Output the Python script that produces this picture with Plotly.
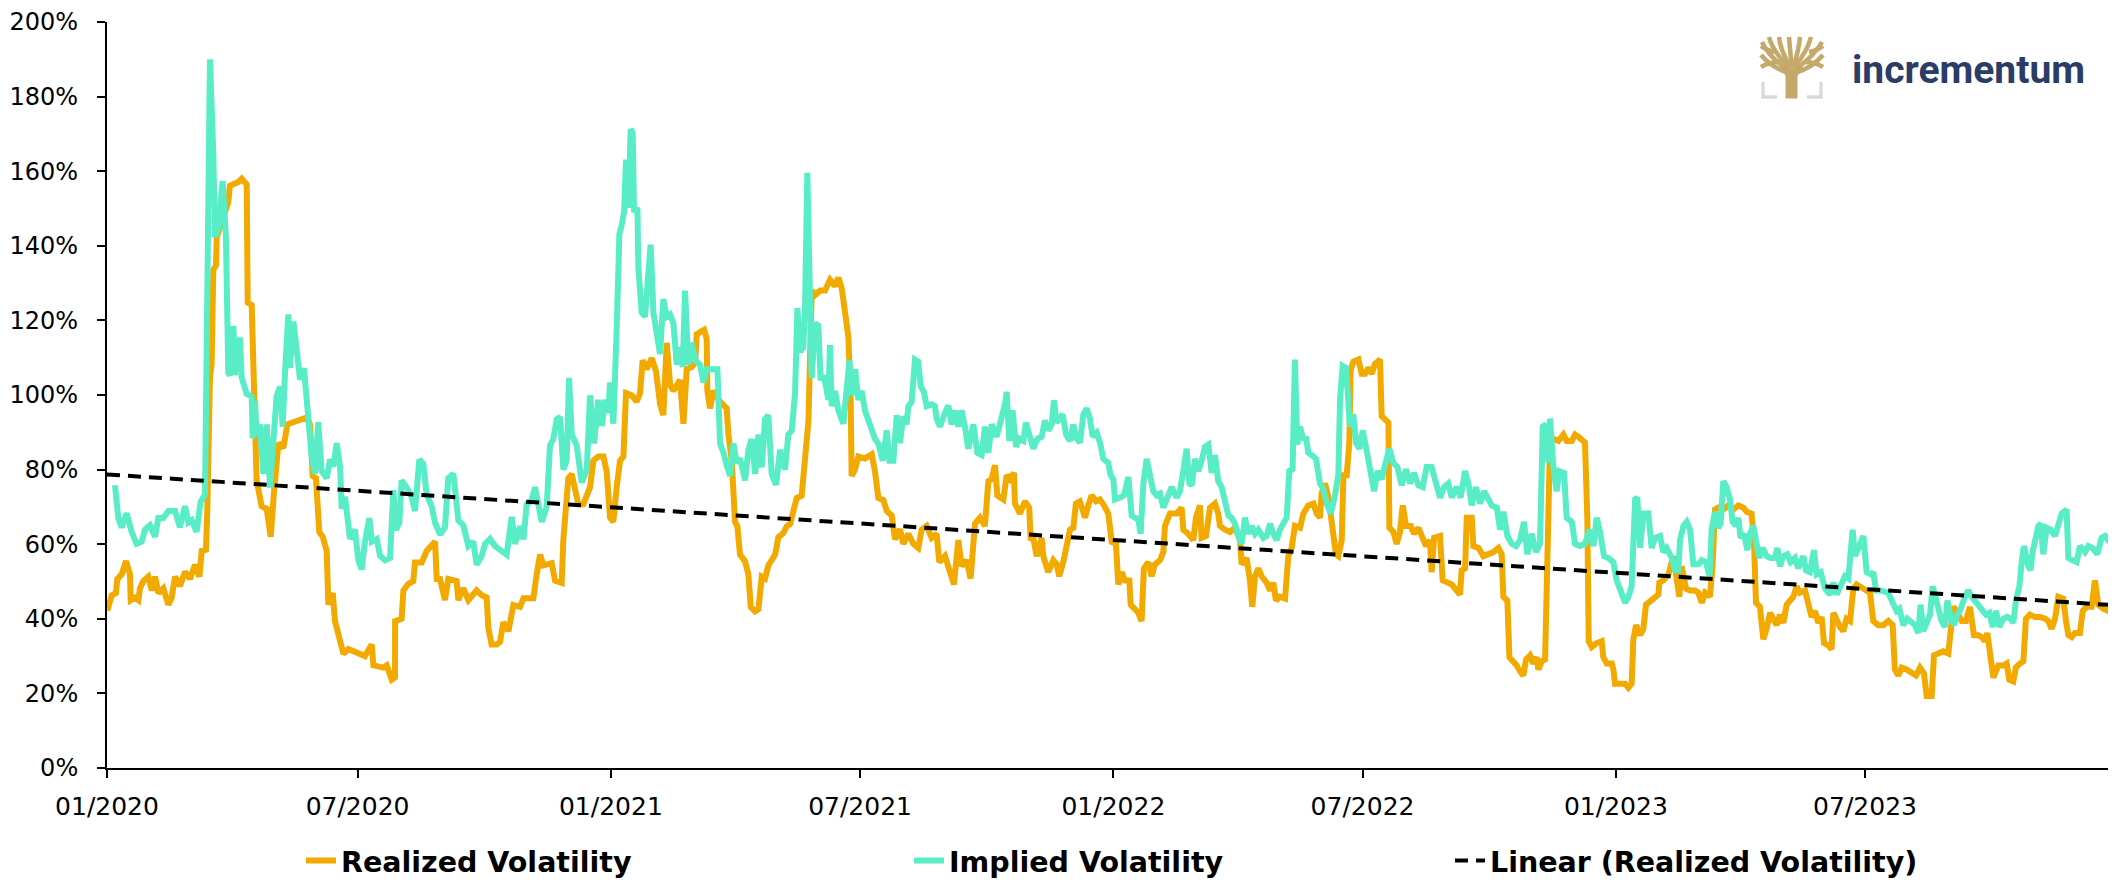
import pandas as pd
import plotly.graph_objects as go

# ---------------- data (days since 2020-01-01, volatility in %) ----------------
realized_day = [0.2,3.4,6.5,7.5,10.7,13.8,16.7,17.2,20.3,22.8,24.0,26.4,30.0,32.5,34.9,37.3,40.9,44.6,47.0,49.4,53.0,56.7,60.3,63.9,67.1,68.8,71.9,72.9,74.8,76.0,77.2,79.2,79.7,82.1,85.0,88.1,89.3,93.0,95.4,97.8,101.5,102.2,105.1,108.7,112.3,116.0,118.9,121.3,124.5,128.1,131.0,135.3,140.2,145.0,147.5,149.4,151.8,154.2,156.7,159.6,160.8,164.0,165.6,168.0,171.7,175.3,179.0,183.8,187.4,192.3,193.5,200.7,203.2,206.8,209.2,209.3,214.0,215.3,218.9,222.5,223.7,228.6,232.2,238.3,239.5,241.9,245.5,247.9,254.0,255.2,258.8,262.5,264.9,268.5,272.2,275.8,277.0,279.4,283.1,
    285.5,287.9,291.6,295.2,300.0,302.5,309.7,312.1,314.6,317.0,323.0,325.5,330.3,331.5,335.1,337.6,340.0,342.4,346.0,348.9,350.9,353.3,356.9,360.6,363.0,365.4,367.8,370.2,372.7,375.1,377.0,381.1,384.8,387.2,389.1,392.0,395.7,398.8,401.7,404.1,406.6,409.0,411.4,416.2,418.7,421.1,424.7,427.2,428.4,430.8,433.7,435.6,436.1,438.0,440.5,445.3,450.1,451.4,453.8,456.2,457.9,459.8,463.5,465.9,467.6,470.7,473.2,475.6,478.0,480.4,482.8,485.3,487.7,491.3,493.7,496.2,498.6,501.0,504.6,507.1,509.5,510.7,511.9,514.3,518.0,521.6,525.2,528.8,531.3,533.7,536.1,538.5,540.2,540.9,543.3,545.8,550.6,555.5,557.9,560.3,564.0,566.4,570.0,572.4,
    576.0,578.4,582.1,585.7,589.3,591.7,595.4,599.0,602.6,604.6,608.7,612.3,615.2,618.4,620.8,624.4,627.3,630.5,634.1,637.7,640.2,642.6,645.0,646.7,651.1,653.5,655.9,658.8,659.5,663.2,666.8,669.9,670.9,672.9,675.3,678.9,680.1,683.7,687.4,689.8,691.7,694.6,697.1,699.5,701.9,703.8,706.7,710.4,712.8,715.2,718.4,721.3,724.2,727.3,729.8,732.9,734.6,737.0,739.4,742.6,743.6,746.7,749.1,751.5,753.2,756.4,758.8,761.2,764.9,767.3,768.5,772.1,776.9,780.6,781.8,785.4,789.1,791.0,793.9,795.1,798.3,801.2,804.8,807.2,808.4,812.1,815.7,819.3,823.0,824.2,827.8,830.2,831.9,833.9,836.3,838.7,842.3,844.8,847.2,849.1,852.0,855.7,858.1,860.5,862.9,
    866.6,869.0,872.6,876.3,878.7,881.1,882.3,884.8,887.2,889.6,890.8,892.7,894.4,896.9,898.1,900.5,902.4,903.4,905.3,909.0,911.4,913.8,916.3,918.7,921.1,924.7,925.9,928.3,930.8,931.5,934.4,936.8,939.2,941.2,943.6,947.0,949.4,952.6,955.7,958.1,961.0,962.2,964.0,968.3,970.2,973.1,976.8,979.2,982.8,984.0,986.5,987.7,991.3,992.5,996.2,999.8,1003.4,1007.0,1010.7,1013.1,1014.3,1017.2,1018.7,1021.6,1024.0,1026.4,1028.8,1030.8,1033.7,1036.1,1038.5,1039.7,1042.1,1044.6,1045.8,1047.0,1048.2,1050.6,1054.3,1057.9,1060.3,1064.0,1066.4,1068.8,1071.2,1073.6,1075.3,1076.3,1078.5,1082.1,1085.7,1086.9,1089.4,1093.0,1094.2,1095.4,1099.0,1102.7,1105.1,1107.5,1108.7,1110.7,1113.6,1116.0,1117.9,1120.8,1123.3,1126.9,1127.6,1130.5,1134.2,1137.8,1140.2,1142.1,1143.8,1147.0,1149.9,1153.5,1155.9,1158.4,1160.8,1164.4,
    1166.3,1168.0,1170.4,1174.1,1177.7,1181.3,1185.0,1188.6,1191.0,1194.6,1196.3,1197.8,1200.7,1203.1,1205.5,1208.0,1210.4,1212.8,1215.2,1217.6,1220.1,1222.5,1224.9,1227.3,1229.7,1233.4,1235.8,1238.2,1240.6,1243.1,1245.5,1247.2,1250.3,1252.7,1254.0,1256.4,1258.8,1261.2,1263.6,1266.1,1268.5,1270.9,1273.3,1277.0,1280.6,1283.0,1286.6,1290.3,1293.9,1297.1,1298.7,1301.2,1303.6,1307.2,1310.9,1314.0,1316.9,1319.8,1321.8,1325.4,1327.1,1330.3,1333.9,1337.5,1339.2,1341.1,1343.5,1347.2,1350.3,1353.2,1356.1,1359.3,1361.7,1364.1,1365.8,1367.8,1370.2,1373.8,1377.5,1379.9,1381.8,1384.7,1386.6,1389.5,1392.0,1393.9,1396.8,1400.4,1404.1,1407.7,1410.1,1412.5,1415.0,1417.4,1421.0,1423.0,1424.7,1427.1,1429.5,1433.1,1435.1,1437.9,1441.6,1444.0,1446.4,1450.1,1453.7,1457.3,1459.3]
realized_pct = [42.2,46.3,46.9,50.7,51.9,55.5,51.9,45.0,45.7,45.0,48.2,50.1,51.3,47.6,51.3,46.9,48.2,43.8,45.7,51.3,48.8,52.6,50.7,54.5,51.3,58.2,58.5,69.5,104.7,108.4,133.5,134.8,142.3,144.8,147.3,151.7,156.1,156.7,157.1,158.0,156.4,124.8,124.1,77.1,70.2,69.5,62.0,73.9,87.1,85.8,92.1,92.7,93.4,94.0,92.1,78.3,77.7,63.3,62.0,58.2,43.8,46.9,39.4,36.3,30.6,31.9,31.2,30.6,30.0,33.1,27.5,26.9,27.5,23.7,24.3,39.4,40.0,47.6,49.4,50.1,55.1,55.1,58.2,60.7,50.7,50.7,45.0,50.7,50.1,45.0,48.2,45.0,46.3,47.6,46.3,45.7,37.5,33.1,33.1,
    33.8,39.1,36.7,43.7,43.2,45.5,45.5,51.9,57.2,54.3,54.9,50.2,49.6,61.3,77.7,78.8,74.8,70.7,70.7,74.2,75.3,82.4,83.5,83.5,79.4,67.1,66.0,75.3,82.4,83.5,100.5,99.9,98.2,100.5,109.3,106.9,109.9,106.3,97.6,94.6,114.0,102.8,101.1,104.0,92.3,106.9,107.5,108.7,116.3,116.9,117.5,115.1,101.1,96.4,101.1,98.2,96.4,89.4,82.4,66.0,64.8,57.2,55.4,51.9,43.2,42.0,42.6,51.3,50.8,54.3,56.0,57.2,61.9,63.0,64.8,65.4,68.9,72.4,73.0,83.5,92.9,110.4,128.0,126.8,128.0,128.0,130.9,129.2,131.5,128.6,122.7,115.7,98.7,78.3,80.0,83.5,83.0,84.1,79.4,72.4,71.8,68.9,67.7,61.3,
    64.0,60.1,62.8,60.1,59.0,63.9,64.9,61.7,62.8,55.2,56.8,52.5,49.2,61.1,54.1,55.7,50.8,65.5,67.1,64.9,76.9,77.4,81.2,73.1,72.0,78.5,77.4,79.1,70.9,68.2,71.5,69.8,61.1,61.7,56.8,61.7,56.8,52.5,55.7,54.6,51.4,55.2,59.0,63.9,64.4,70.9,71.5,67.1,70.4,73.1,71.5,72.0,70.4,68.2,60.6,60.1,49.2,52.5,50.3,50.3,43.8,42.7,41.6,39.4,53.5,55.2,51.4,54.6,55.7,57.9,64.9,68.2,68.2,69.8,63.9,62.8,61.1,67.1,70.4,61.7,62.2,69.8,70.9,68.2,64.9,63.9,63.3,64.4,61.1,54.6,56.3,50.3,43.2,51.4,53.5,51.4,49.7,47.6,49.7,44.9,45.9,45.4,56.8,59.0,64.9,
    64.4,68.2,70.4,70.9,68.2,67.1,73.6,76.3,72.5,66.6,61.1,57.3,56.8,61.1,78.5,78.5,87.2,106.7,108.9,109.5,105.7,105.7,107.3,105.7,108.4,109.5,94.3,93.7,92.6,64.4,63.3,60.1,63.3,70.4,64.9,64.9,62.8,64.4,61.1,59.5,61.1,52.5,61.7,62.2,50.3,49.7,49.2,48.1,46.5,53.0,53.5,67.1,67.1,59.5,59.0,56.8,57.3,57.9,59.0,57.3,45.9,44.9,29.7,28.6,27.5,25.9,24.8,29.1,30.2,28.0,29.7,26.4,28.6,29.1,50.3,82.9,87.2,88.3,87.7,89.4,87.7,87.7,89.4,88.8,87.7,87.2,66.6,34.0,32.4,33.5,34.0,29.7,28.0,28.0,26.4,22.6,22.6,22.6,21.5,22.6,34.5,38.3,35.6,37.3,43.8,44.9,45.4,46.5,49.7,50.3,51.9,56.8,51.4,45.9,54.1,48.1,47.6,47.6,47.0,44.3,47.0,46.0,
    54.6,69.3,69.8,69.3,70.4,69.3,70.4,69.8,68.7,68.2,61.1,44.3,43.2,34.5,37.3,41.6,40.0,38.3,41.1,38.9,43.8,44.9,45.9,48.7,47.0,47.6,43.8,40.5,42.1,38.9,40.5,33.5,32.9,31.8,41.6,39.4,37.8,36.7,40.0,39.4,48.1,49.2,48.7,48.1,47.0,39.4,38.3,38.3,39.4,38.3,26.4,24.8,26.9,26.4,25.3,24.8,26.9,25.3,19.3,19.3,30.2,30.7,31.3,30.7,38.9,43.2,42.1,39.4,39.4,43.2,35.6,35.6,35.1,34.0,36.2,29.1,24.2,27.5,27.5,28.0,23.7,23.2,27.0,28.0,28.6,40.0,41.1,40.5,40.5,40.0,39.4,37.3,40.0,45.9,45.4,39.4,35.6,35.1,36.2,36.2,42.1,43.2,43.2,50.3,43.8,42.7,42.1,43.8,44.3]

implied_day = [5.8,8.2,10.7,14.3,17.9,21.5,25.2,27.6,31.2,34.9,37.3,40.9,44.6,49.4,53.0,56.7,59.1,61.5,65.1,68.0,71.2,72.4,74.8,77.2,78.5,80.9,84.0,86.4,88.1,89.3,91.8,93.0,94.7,96.6,97.8,101.5,105.1,105.8,107.5,108.7,111.1,113.6,116.0,118.4,120.8,123.2,125.7,127.6,129.3,131.7,132.9,135.4,137.8,140.2,143.1,146.3,148.7,151.1,153.5,155.9,159.6,162.0,164.4,166.8,169.3,170.5,172.9,174.1,176.5,180.1,182.6,185.0,187.4,190.6,192.3,195.9,198.3,201.9,205.6,208.0,209.9,212.4,214.0,217.7,221.3,223.7,226.9,229.8,232.2,235.8,238.3,241.9,245.5,247.9,251.6,255.2,258.8,262.5,266.1,268.5,272.2,274.6,278.2,281.8,285.5,
    290.3,294.0,296.4,300.0,302.5,304.9,308.5,310.9,313.3,315.8,319.4,321.8,324.2,326.7,329.1,331.5,333.9,335.6,337.6,341.2,344.8,348.5,350.9,353.8,356.9,359.4,361.8,364.2,365.4,367.8,370.2,372.2,373.9,375.6,377.0,378.7,380.4,381.9,382.8,385.3,386.0,388.4,390.8,392.5,394.9,396.9,399.3,401.7,404.1,406.6,409.0,411.4,413.9,416.3,418.2,419.9,422.3,424.7,427.2,430.8,433.2,435.6,440.5,443.4,445.3,447.7,450.1,452.6,455.0,457.4,459.8,463.5,465.9,468.3,470.8,473.2,475.6,478.0,480.4,482.8,486.0,488.9,492.5,494.9,497.4,499.8,501.5,503.4,505.8,507.1,508.7,510.2,511.9,514.3,516.7,518.4,520.4,522.3,524.0,525.2,526.4,528.8,531.3,534.9,537.3,539.3,540.9,543.4,545.8,548.2,550.6,554.3,557.9,560.3,563.5,566.4,568.3,571.2,573.6,
    576.0,578.4,580.8,582.1,584.5,586.9,589.3,591.0,593.4,595.4,599.0,601.4,602.6,605.0,608.7,611.1,613.5,615.9,618.4,620.8,623.2,625.6,629.3,632.2,635.3,637.7,640.2,642.6,646.2,649.9,652.3,653.5,655.4,657.8,660.3,662.7,665.6,667.5,670.4,672.9,675.8,678.9,681.3,683.7,686.2,687.9,689.8,692.2,694.2,696.6,699.5,701.9,704.3,706.7,709.2,711.6,714.0,716.0,718.9,721.3,723.7,727.3,729.0,731.0,732.2,735.8,738.7,741.9,744.3,746.7,749.1,750.8,752.8,755.2,757.6,760.0,762.4,764.9,767.3,769.7,773.3,776.9,779.4,781.8,784.2,786.2,787.9,790.3,792.7,795.1,797.5,800.0,802.4,804.8,807.2,809.7,812.1,814.5,816.9,819.3,821.8,824.2,826.6,829.0,831.5,833.9,836.3,839.9,842.3,844.8,847.2,849.6,852.0,854.5,856.9,858.8,861.2,862.9,864.6,866.6,869.0,870.9,872.6,875.0,878.2,
    881.1,883.6,886.0,888.9,892.0,894.4,895.7,897.6,900.0,901.7,902.9,905.3,907.3,909.7,912.1,914.5,917.4,920.4,922.8,925.9,928.3,931.5,934.4,937.3,940.5,943.6,946.5,949.4,952.6,955.7,958.6,962.2,965.4,968.3,971.2,974.3,976.8,980.4,983.3,986.4,988.9,991.3,994.4,997.4,1000.3,1003.4,1005.8,1009.5,1011.9,1014.3,1017.2,1020.4,1023.5,1026.4,1029.3,1031.7,1034.9,1038.0,1040.9,1042.9,1045.3,1047.0,1048.2,1050.6,1053.0,1055.0,1058.4,1060.3,1064.0,1066.4,1070.0,1073.6,1076.8,1079.7,1082.1,1084.5,1087.4,1090.6,1094.2,1096.6,1099.5,1102.7,1105.1,1107.5,1110.0,1111.6,1113.6,1116.0,1119.6,1122.0,1124.5,1128.1,1130.5,1132.9,1136.6,1139.0,1141.4,1142.6,1145.1,1147.5,1149.9,1152.3,1156.0,1158.4,1161.5,1164.0,1165.7,1168.1,
    1170.4,1172.1,1174.1,1176.5,1178.9,1180.8,1183.3,1185.0,1186.6,1189.1,1191.5,1193.4,1195.8,1197.8,1200.2,1202.6,1205.5,1208.4,1211.6,1213.3,1215.2,1217.6,1220.5,1222.9,1226.1,1228.5,1232.2,1234.1,1237.0,1239.9,1241.9,1244.8,1247.9,1251.5,1254.0,1256.4,1258.8,1262.4,1264.9,1268.0,1269.7,1272.8,1275.8,1278.2,1281.1,1283.0,1285.0,1287.9,1291.5,1293.9,1297.1,1300.0,1302.0,1304.8,1307.7,1310.1,1313.3,1315.7,1317.4,1319.3,1321.8,1324.2,1326.1,1327.8,1330.2,1332.6,1335.1,1336.8,1339.2,1341.6,1344.0,1346.5,1349.6,1352.0,1354.4,1358.1,1361.7,1364.9,1367.3,1369.7,1372.1,1374.5,1377.5,1380.3,1382.8,1384.7,1386.6,1389.1,1390.8,1392.4,1395.6,1397.3,1398.7,1400.4,1402.9,1404.6,1406.5,1408.9,1411.8,1415.0,1417.4,1419.8,1423.4,1424.7,1427.8,1430.7,1433.1,1436.8,1439.2,1442.3,1445.7,1448.9,1451.3,1454.4,1456.8,1459.3]
implied_pct = [75.8,67.0,64.5,68.3,63.3,60.1,60.7,63.9,65.1,62.0,67.0,67.0,68.9,68.9,64.5,70.2,65.8,66.4,63.3,71.4,73.3,108.4,190.0,164.9,142.3,144.8,157.4,142.3,105.9,105.3,118.5,105.3,114.7,114.7,104.7,100.3,99.6,88.4,98.4,89.0,92.1,78.9,92.1,75.2,90.9,99.6,102.2,91.5,105.9,121.6,107.2,119.7,112.2,104.1,107.2,92.1,83.3,78.9,92.7,79.6,77.7,82.7,80.8,87.1,80.8,69.5,72.7,68.9,61.4,63.9,55.7,53.2,60.7,67.0,60.7,61.4,56.9,55.7,56.3,74.5,63.9,65.8,77.1,75.2,72.7,68.9,82.7,81.5,73.3,70.2,65.8,62.6,64.5,77.7,78.9,66.4,65.1,59.5,60.7,54.5,56.9,60.1,61.4,59.5,58.6,
    57.2,67.3,60.1,64.8,61.3,70.7,71.8,75.3,70.7,66.0,70.1,86.5,88.2,93.5,94.1,80.0,82.4,104.6,89.4,86.5,76.5,80.0,99.9,87.0,98.7,91.7,98.7,95.2,103.4,92.3,117.5,143.2,145.6,149.1,163.1,150.2,171.3,170.1,149.1,150.2,133.8,122.1,121.0,129.2,140.3,122.1,115.1,111.0,125.7,121.0,121.6,119.2,108.1,112.8,107.5,128.0,108.1,114.0,109.3,108.1,103.4,106.9,106.9,106.9,87.0,84.7,81.2,78.3,87.0,81.8,83.0,77.1,85.3,88.2,78.8,89.4,80.6,93.5,94.6,78.8,75.9,85.3,80.0,89.4,90.5,100.5,123.3,111.6,112.8,124.5,159.6,129.2,104.6,119.2,118.6,104.0,105.2,102.3,98.7,113.4,97.0,101.1,95.8,92.3,103.4,109.3,99.9,106.9,98.7,101.1,95.8,91.7,88.2,87.0,82.4,90.5,82.4,82.4,94.6,
    87.1,94.3,92.1,97.0,98.1,109.5,108.9,102.4,100.8,97.0,97.5,97.0,93.7,91.5,95.3,97.2,92.1,95.9,91.5,95.9,91.5,85.6,92.1,84.5,83.9,91.5,84.5,92.1,88.8,93.7,97.5,100.8,87.7,95.9,86.1,88.3,87.7,92.6,89.4,85.6,88.3,88.8,93.2,90.5,92.1,98.6,92.6,93.7,94.8,89.4,87.7,92.1,88.3,87.2,94.8,96.4,93.7,88.8,89.9,87.2,82.9,81.8,78.5,77.4,72.0,72.5,73.1,78.0,67.7,67.1,66.6,62.8,76.3,82.9,79.1,74.2,73.1,73.6,69.8,72.5,75.3,72.5,74.2,79.6,85.6,76.3,75.8,82.9,79.6,82.3,86.1,86.7,79.1,83.9,76.9,75.3,72.0,67.7,67.1,65.5,62.2,60.1,67.1,62.8,64.9,62.8,63.9,61.7,62.2,65.5,62.8,61.1,63.9,66.0,67.1,79.6,80.1,109.5,86.7,91.5,88.0,88.8,84.5,83.9,82.9,
    76.3,74.7,70.9,68.2,73.1,78.5,99.1,107.8,107.3,100.2,91.5,94.8,87.2,85.6,90.5,86.1,80.7,74.2,79.6,77.4,81.2,85.6,81.8,80.7,75.8,80.1,76.3,79.1,75.8,75.3,80.7,80.7,76.3,72.5,75.3,76.3,72.5,75.3,72.5,79.6,76.3,70.4,75.3,70.9,74.2,71.5,70.4,69.8,63.9,68.7,62.2,60.1,59.5,61.1,66.0,57.3,62.8,57.9,60.1,91.5,92.1,81.8,93.7,80.7,74.2,79.6,79.1,67.1,66.0,60.1,59.5,60.1,63.9,59.5,67.1,63.3,56.8,56.3,55.2,50.3,47.0,44.3,45.9,48.7,72.0,72.5,59.0,68.2,68.2,59.0,61.7,62.2,57.9,59.0,56.3,53.0,53.0,61.1,64.9,66.0,63.9,54.6,54.6,55.7,55.2,51.4,64.4,68.7,
    64.4,65.5,76.9,75.3,72.0,66.0,64.9,67.1,61.7,62.8,58.4,62.8,64.9,60.1,56.3,59.0,56.8,56.3,56.3,59.0,54.1,56.8,57.3,55.2,56.3,53.5,56.8,53.0,52.5,58.4,51.9,52.5,48.1,46.5,49.7,46.5,48.7,51.4,50.8,63.9,56.8,59.5,62.2,52.5,51.9,52.5,47.6,47.6,47.0,47.0,44.3,42.1,42.7,38.3,40.0,39.4,38.3,36.2,43.8,36.7,39.4,41.1,48.7,45.9,41.6,39.4,37.8,44.9,40.5,38.3,41.1,42.7,45.9,47.6,45.9,44.3,42.7,41.1,41.6,37.8,42.1,37.8,40.0,40.5,40.0,38.9,44.9,48.7,55.2,59.5,54.1,53.0,57.9,61.1,64.9,65.5,57.3,64.4,63.9,62.2,65.5,68.2,69.3,56.3,55.7,55.2,59.5,57.9,59.5,59.0,57.3,61.7,62.2,60.6,65.5,67.7]

# linear trend of realized volatility (end points)
linear_day = [0.0, 1459.3]
linear_pct = [78.7, 43.6]

series_names = ["Realized Volatility", "Implied Volatility", "Linear (Realized Volatility)"]
x_end_day = 1459.3

# ---------------- helpers ----------------
BASE = pd.Timestamp("2020-01-01")


def to_dates(days):
    return [BASE + pd.Timedelta(days=float(d)) for d in days]


# the page has an 8px body margin, so the figure is sized/offset to compensate
OFF = 8
PLOT_TOP, PLOT_BOTTOM, PLOT_LEFT = 22, 768, 107   # page pixels
W, H = 2116 - OFF, 883 - OFF
ML, MR, MT = PLOT_LEFT - OFF, 0, PLOT_TOP - OFF
PW = W - ML - MR
PH = PLOT_BOTTOM - PLOT_TOP
MB = H - MT - PH


def px(x):  # page pixel -> paper x
    return (x - PLOT_LEFT) / PW


def py(y):  # page pixel -> paper y
    return (PLOT_BOTTOM - y) / PH


TICK_FONT = "DejaVu Sans, Liberation Sans, Arial, sans-serif"
ORANGE = "#F2A900"
TEAL = "#58EDC6"

fig = go.Figure()
fig.add_trace(go.Scatter(x=to_dates(realized_day), y=realized_pct, mode="lines",
                         name=series_names[0], line=dict(color=ORANGE, width=6),
                         legend="legend"))
fig.add_trace(go.Scatter(x=to_dates(implied_day), y=implied_pct, mode="lines",
                         name=series_names[1], line=dict(color=TEAL, width=6),
                         legend="legend2"))
fig.add_trace(go.Scatter(x=to_dates(linear_day), y=linear_pct, mode="lines",
                         name=series_names[2],
                         line=dict(color="black", width=4, dash="13px,8px"),
                         legend="legend3"))

axis_common = dict(showgrid=False, zeroline=False, showline=True, linecolor="black",
                   linewidth=2, ticks="outside", ticklen=8, tickwidth=2,
                   tickcolor="black", automargin=False, ticklabeloverflow="allow")

fig.update_xaxes(type="date", range=[BASE, BASE + pd.Timedelta(days=x_end_day)],
                 tick0="2020-01-01", dtick="M6", tickformat="%m/%Y",
                 ticklabelstandoff=7,
                 tickfont=dict(family=TICK_FONT, size=25, color="black"), **axis_common)
fig.update_yaxes(range=[0, 200], dtick=20, ticksuffix="%", ticklabelstandoff=14,
                 tickfont=dict(family=TICK_FONT, size=24, color="black"), **axis_common)

leg_font = dict(family=TICK_FONT, size=28.5, color="black", weight="bold")
leg_y = py(861)
fig.update_layout(
    width=W, height=H,
    margin=dict(l=ML, r=MR, t=MT, b=MB, pad=0, autoexpand=False),
    plot_bgcolor="white", paper_bgcolor="white",
    showlegend=True,
    legend=dict(x=px(301), y=leg_y, xanchor="left", yanchor="middle", font=leg_font,
                bgcolor="rgba(0,0,0,0)"),
    legend2=dict(x=px(909), y=leg_y, xanchor="left", yanchor="middle", font=leg_font,
                 bgcolor="rgba(0,0,0,0)"),
    legend3=dict(x=px(1450), y=leg_y, xanchor="left", yanchor="middle", font=leg_font,
                 bgcolor="rgba(0,0,0,0)"),
)

# ---------------- logo (tree mark + wordmark) ----------------
GOLD = "#C5A96A"
GRAY = "#DADADA"


def path_from(points, close=False):
    s = "M " + " L ".join(f"{px(x):.5f},{py(y):.5f}" for x, y in points)
    return s + (" Z" if close else "")


def curve(p0, c, p1):
    return (f"M {px(p0[0]):.5f},{py(p0[1]):.5f} Q {px(c[0]):.5f},{py(c[1]):.5f} "
            f"{px(p1[0]):.5f},{py(p1[1]):.5f}")


logo_shapes = []
# trunk
logo_shapes.append(dict(type="path", xref="paper", yref="paper",
                        path=path_from([(1786, 98), (1797, 98), (1797, 76), (1803, 66),
                                        (1792, 69), (1781, 66), (1786, 76)], close=True),
                        fillcolor=GOLD, line=dict(color=GOLD, width=1)))
branches = [
    ((1789, 73), (1772, 68), (1761, 55)),
    ((1789, 71), (1768, 56), (1762, 42)),
    ((1790, 69), (1772, 50), (1769, 37)),
    ((1791, 68), (1780, 50), (1779, 37)),
    ((1792, 68), (1790, 50), (1789, 37)),
    ((1793, 68), (1799, 50), (1800, 37)),
    ((1794, 68), (1808, 50), (1811, 37)),
    ((1795, 70), (1815, 55), (1822, 42)),
    ((1795, 73), (1812, 68), (1823, 55)),
    ((1780, 62), (1769, 62), (1761, 67)),
    ((1804, 62), (1815, 62), (1823, 67)),
    ((1775, 52), (1766, 50), (1761, 46)),
    ((1809, 52), (1818, 50), (1823, 46)),
]
for p0, c, p1 in branches:
    logo_shapes.append(dict(type="path", xref="paper", yref="paper", path=curve(p0, c, p1),
                            line=dict(color=GOLD, width=4.5)))
logo_shapes.append(dict(type="path", xref="paper", yref="paper",
                        path=path_from([(1763, 82), (1763, 97), (1777, 97)]),
                        line=dict(color=GRAY, width=3.5)))
logo_shapes.append(dict(type="path", xref="paper", yref="paper",
                        path=path_from([(1821, 82), (1821, 97), (1807, 97)]),
                        line=dict(color=GRAY, width=3.5)))
fig.update_layout(shapes=logo_shapes)
fig.add_annotation(text="incrementum", xref="paper", yref="paper", x=px(1850), y=py(70),
                   xanchor="left", yanchor="middle", showarrow=False,
                   font=dict(family="Roboto, Inter, sans-serif", size=39, color="#2B3C66",
                             weight="bold"))

fig.write_html("out.html")
